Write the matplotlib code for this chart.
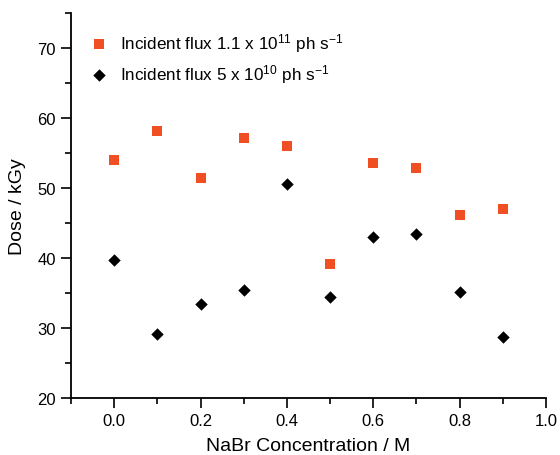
import numpy as np
import matplotlib
matplotlib.use('Agg')
import matplotlib.pyplot as plt
from matplotlib.ticker import MultipleLocator

plt.rcParams['font.family'] = ['Liberation Sans', 'DejaVu Sans']
plt.rcParams['mathtext.fontset'] = 'custom'
plt.rcParams['mathtext.rm'] = 'Liberation Sans'
plt.rcParams['mathtext.it'] = 'Liberation Sans:italic'

# data
conc = [0.0, 0.1, 0.2, 0.3, 0.4, 0.5, 0.6, 0.7, 0.8, 0.9]
dose_high = [54.0, 58.1, 51.4, 57.2, 56.0, 39.2, 53.6, 52.9, 46.1, 47.0]
dose_low = [39.7, 29.1, 33.5, 35.5, 50.6, 34.5, 43.0, 43.5, 35.1, 28.7]
labels = [r'Incident flux 1.1 x 10$^{11}$ ph s$^{-1}$',
          r'Incident flux 5 x 10$^{10}$ ph s$^{-1}$']

fig = plt.figure(figsize=(5.6, 4.56), dpi=100)
ax = fig.add_axes([0.127, 0.125, 0.848, 0.844])

ax.scatter(conc, dose_high, marker='s', s=42, c='#f04e23', lw=0, label=labels[0])
ax.scatter(conc, dose_low, marker='D', s=40, c='black', lw=0, label=labels[1])

ax.set_xlim(-0.1, 1.0)
ax.set_ylim(20, 75)
ax.xaxis.set_minor_locator(MultipleLocator(0.1))
ax.yaxis.set_minor_locator(MultipleLocator(5))
ax.set_xticks(np.arange(0, 1.01, 0.2))
ax.set_xticklabels(['0.0', '0.2', '0.4', '0.6', '0.8', '1.0'])
ax.set_yticks([20, 30, 40, 50, 60, 70])

for s in ['top', 'right']:
    ax.spines[s].set_visible(False)
for s in ['left', 'bottom']:
    ax.spines[s].set_linewidth(1.3)

ax.tick_params(which='major', direction='out', length=7, width=1.2, labelsize=12, pad=4)
ax.tick_params(which='minor', direction='out', length=4.5, width=1.2)

ax.set_xlabel('NaBr Concentration / M', fontsize=14, labelpad=6)
ax.set_ylabel('Dose / kGy', fontsize=14, labelpad=8)

ax.legend(loc='upper left', bbox_to_anchor=(0.005, 0.993), frameon=False,
          fontsize=12.3, handletextpad=0.65, labelspacing=0.45, handlelength=1.2)

fig.savefig('out.png', dpi=100)
